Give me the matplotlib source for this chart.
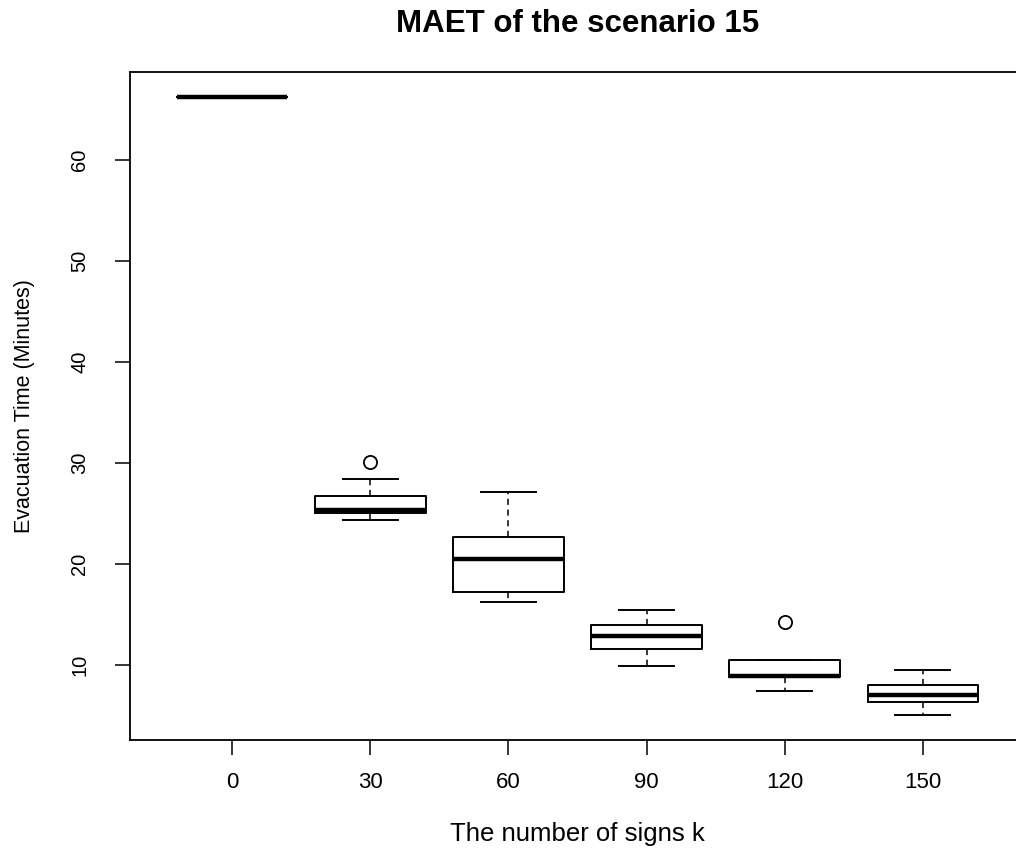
import matplotlib
matplotlib.use("Agg")
import matplotlib.pyplot as plt

plt.rcParams['font.family'] = ['Liberation Sans', 'DejaVu Sans']

categories = ["0", "30", "60", "90", "120", "150"]
whisker_low = [66.2, 24.4, 16.25, 9.9, 7.4, 5.05]
q1_values = [66.2, 25.0, 17.25, 11.6, 8.8, 6.3]
medians = [66.2, 25.3, 20.5, 12.9, 8.95, 7.0]
q3_values = [66.2, 26.75, 22.65, 14.0, 10.5, 8.0]
whisker_high = [66.2, 28.4, 27.15, 15.45, 10.5, 9.5]
outliers = [[], [30.1], [], [], [14.25], []]

stats = []
for i, c in enumerate(categories):
    stats.append(dict(label=c, whislo=whisker_low[i], q1=q1_values[i], med=medians[i],
                      q3=q3_values[i], whishi=whisker_high[i], fliers=outliers[i]))

fig = plt.figure(figsize=(10.16, 8.48), dpi=100)
ax = fig.add_axes([130/1016, 108/848, (1025-130)/1016, (740-72)/848])

ax.bxp(stats, positions=range(1, 7), widths=0.8, patch_artist=False,
       boxprops=dict(color='black', linewidth=1.4),
       medianprops=dict(color='black', linewidth=3.2, solid_capstyle='butt'),
       whiskerprops=dict(color='black', linewidth=1.1, linestyle=(0, (4, 3))),
       capprops=dict(color='black', linewidth=1.4),
       flierprops=dict(marker='o', markerfacecolor='none', markeredgecolor='black',
                       markersize=9.5, markeredgewidth=1.3),
       capwidths=0.4)

ax.set_xlim(0.26, 6.74)
ax.set_ylim(2.57, 68.71)
ax.set_xticks(range(1, 7))
ax.set_xticklabels(categories)
ax.set_yticks([10, 20, 30, 40, 50, 60])
ax.set_yticklabels(["10", "20", "30", "40", "50", "60"], rotation=90, va='center')
ax.tick_params(axis='both', length=10.5, width=1.1, color='black')
ax.tick_params(axis='x', pad=12.5, labelsize=16)
ax.tick_params(axis='y', pad=19, labelsize=14.5)
for s in ax.spines.values():
    s.set_linewidth(1.3)
    s.set_color('black')

ax.set_title("MAET of the scenario 15", fontsize=22.5, fontweight='bold', pad=29)
ax.set_xlabel("The number of signs k", fontsize=18.5, labelpad=21)
ax.set_ylabel("Evacuation Time (Minutes)", fontsize=15.5, labelpad=25)

fig.savefig("out.png", dpi=100)
